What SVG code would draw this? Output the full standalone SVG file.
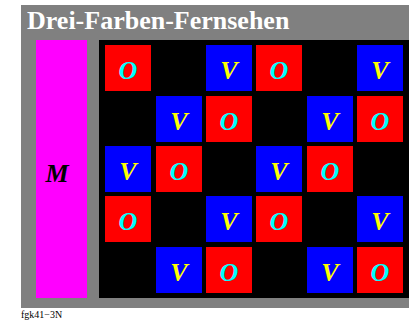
<svg xmlns="http://www.w3.org/2000/svg" width="409" height="322" viewBox="0 0 409 322">
<style>
.r{fill:#ff0000}
.b{fill:#0000ff}
.l{font-family:"Liberation Serif",serif;font-weight:bold;font-style:italic;font-size:26px;text-anchor:middle}
.o{fill:#00ffff}
.v{fill:#ffff00}
</style>
<rect width="409" height="322" fill="#ffffff"/>
<rect x="21" y="5" width="388" height="303" fill="#808080"/>
<text x="27" y="29" font-family="'Liberation Serif',serif" font-weight="bold" font-size="26" fill="#ffffff">Drei-Farben-Fernsehen</text>
<g id="M">
<rect x="36" y="40" width="51" height="258" fill="#ff00ff"/>
<text class="l" x="57" y="182" fill="#000000">M</text>
</g>
<rect x="99" y="40" width="310" height="258" fill="#000000"/>
<g id="row0">
<rect class="r" x="105" y="45" width="46" height="46"/><text class="l o" x="128" y="79">O</text>
<rect class="b" x="206" y="45" width="46" height="46"/><text class="l v" x="229" y="79">V</text>
<rect class="r" x="256" y="45" width="46" height="46"/><text class="l o" x="279" y="79">O</text>
<rect class="b" x="357" y="45" width="46" height="46"/><text class="l v" x="380" y="79">V</text>
</g>
<g id="row1">
<rect class="b" x="156" y="96" width="46" height="46"/><text class="l v" x="179" y="130">V</text>
<rect class="r" x="206" y="96" width="46" height="46"/><text class="l o" x="229" y="130">O</text>
<rect class="b" x="307" y="96" width="46" height="46"/><text class="l v" x="330" y="130">V</text>
<rect class="r" x="357" y="96" width="46" height="46"/><text class="l o" x="380" y="130">O</text>
</g>
<g id="row2">
<rect class="b" x="105" y="146" width="46" height="46"/><text class="l v" x="128" y="180">V</text>
<rect class="r" x="156" y="146" width="46" height="46"/><text class="l o" x="179" y="180">O</text>
<rect class="b" x="256" y="146" width="46" height="46"/><text class="l v" x="279" y="180">V</text>
<rect class="r" x="307" y="146" width="46" height="46"/><text class="l o" x="330" y="180">O</text>
</g>
<g id="row3">
<rect class="r" x="105" y="196" width="46" height="46"/><text class="l o" x="128" y="230">O</text>
<rect class="b" x="206" y="196" width="46" height="46"/><text class="l v" x="229" y="230">V</text>
<rect class="r" x="256" y="196" width="46" height="46"/><text class="l o" x="279" y="230">O</text>
<rect class="b" x="357" y="196" width="46" height="46"/><text class="l v" x="380" y="230">V</text>
</g>
<g id="row4">
<rect class="b" x="156" y="247" width="46" height="46"/><text class="l v" x="179" y="281">V</text>
<rect class="r" x="206" y="247" width="46" height="46"/><text class="l o" x="229" y="281">O</text>
<rect class="b" x="307" y="247" width="46" height="46"/><text class="l v" x="330" y="281">V</text>
<rect class="r" x="357" y="247" width="46" height="46"/><text class="l o" x="380" y="281">O</text>
</g>
<g id="connectors"></g>
<text x="21" y="318" font-family="'Liberation Serif',serif" font-size="10" fill="#000000">fgk41−3N</text>
</svg>
